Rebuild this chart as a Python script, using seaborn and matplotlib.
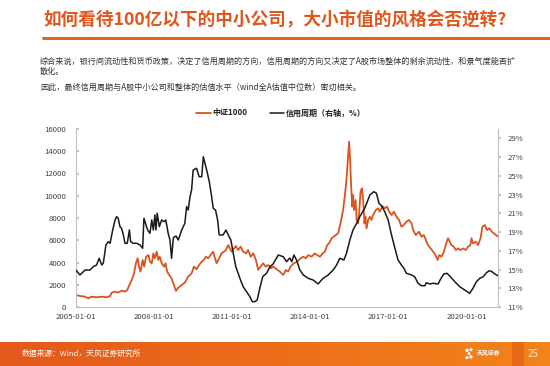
import numpy as np
import pandas as pd
import matplotlib
matplotlib.use("Agg")
import matplotlib.pyplot as plt
from matplotlib.lines import Line2D
from matplotlib.colors import LinearSegmentedColormap
import seaborn as sns

# ---------------- data ----------------
csi_years = [2005.00, 2005.15, 2005.35, 2005.47, 2005.60, 2005.79, 2005.99, 2006.18, 2006.31, 2006.37,
             2006.50, 2006.62, 2006.75, 2006.88, 2006.97, 2007.05, 2007.14, 2007.23, 2007.30, 2007.37,
             2007.42, 2007.48, 2007.56, 2007.62, 2007.69, 2007.78, 2007.84, 2007.91, 2007.97, 2008.03,
             2008.10, 2008.16, 2008.22, 2008.29, 2008.38, 2008.44, 2008.50, 2008.58, 2008.67, 2008.76,
             2008.84, 2008.93, 2009.06, 2009.18, 2009.31, 2009.44, 2009.53, 2009.63, 2009.73, 2009.83,
             2009.91, 2009.99, 2010.08, 2010.17, 2010.27, 2010.34, 2010.40, 2010.50, 2010.59, 2010.68,
             2010.76, 2010.85, 2010.91, 2010.98, 2011.07, 2011.14, 2011.23, 2011.32, 2011.42, 2011.53,
             2011.61, 2011.71, 2011.81, 2011.91, 2012.00, 2012.09, 2012.19, 2012.29, 2012.38, 2012.49,
             2012.57, 2012.70, 2012.83, 2012.96, 2013.06, 2013.15, 2013.24, 2013.37, 2013.50, 2013.63,
             2013.73, 2013.83, 2013.92, 2014.05, 2014.17, 2014.26, 2014.37, 2014.47, 2014.56, 2014.65,
             2014.72, 2014.82, 2014.90, 2014.98, 2015.07, 2015.13, 2015.20, 2015.26, 2015.33, 2015.39,
             2015.45, 2015.49, 2015.53, 2015.57, 2015.61, 2015.64, 2015.68, 2015.74, 2015.78, 2015.84,
             2015.88, 2015.93, 2015.98, 2016.03, 2016.08, 2016.12, 2016.16, 2016.22, 2016.29, 2016.35,
             2016.41, 2016.52, 2016.60, 2016.67, 2016.77, 2016.86, 2016.95, 2017.03, 2017.12, 2017.21,
             2017.31, 2017.41, 2017.50, 2017.59, 2017.69, 2017.79, 2017.89, 2017.95, 2018.05, 2018.18,
             2018.27, 2018.36, 2018.44, 2018.52, 2018.62, 2018.72, 2018.81, 2018.89, 2018.95, 2019.04,
             2019.13, 2019.20, 2019.29, 2019.36, 2019.42, 2019.51, 2019.59, 2019.68, 2019.77, 2019.87,
             2019.97, 2020.06, 2020.15, 2020.19, 2020.25, 2020.36, 2020.44, 2020.54, 2020.61, 2020.70,
             2020.79, 2020.88, 2020.97, 2021.05, 2021.13, 2021.21]
csi1000 = [1080, 990, 930, 780, 930, 870, 930, 870, 990, 1290,
           1380, 1290, 1470, 1380, 1530, 1980, 2430, 3030, 3930, 4380,
           3630, 3180, 4230, 3630, 4520, 4670, 4080, 3930, 4820, 4380,
           4970, 4230, 4520, 3930, 3630, 3930, 3180, 2880, 2580, 1980,
           1450, 1750, 1980, 2190, 2730, 3030, 3630, 3390, 3780, 4080,
           4230, 4520, 4380, 4670, 4970, 4380, 3930, 4380, 4820, 4970,
           5120, 5570, 5270, 4970, 5270, 5480, 5120, 5420, 4970, 4820,
           5120, 4520, 4820, 4230, 3330, 3630, 3930, 3630, 3780, 3480,
           3630, 3400, 3180, 2880, 3330, 3180, 3630, 3930, 4080, 4380,
           4520, 4380, 4670, 4520, 4820, 4670, 4520, 4820, 4970, 5570,
           5720, 6180, 6320, 6470, 6630, 7220, 7970, 8720, 10070, 11420,
           13510, 14860, 13210, 10810, 9020, 10070, 8720, 9620, 7820, 7520,
           8570, 10360, 10670, 9620, 7520, 8120, 7070, 7820, 8120, 7820,
           8270, 8720, 8870, 8570, 9080, 8870, 9020, 8570, 8270, 8570,
           8120, 7820, 7220, 7370, 7670, 7820, 7520, 6920, 6470, 6770,
           6320, 6470, 6020, 5570, 5270, 4970, 4670, 4230, 4670, 4520,
           4970, 5570, 6180, 5870, 5570, 5420, 5120, 5270, 5120, 5270,
           5120, 5420, 5570, 6180, 5720, 5870, 5570, 6180, 7220, 7370,
           6920, 7070, 6770, 6620, 6470, 6320]

credit_years = [2005.00, 2005.15, 2005.35, 2005.54, 2005.66, 2005.79, 2005.89, 2005.99, 2006.05, 2006.15,
                2006.24, 2006.31, 2006.41, 2006.50, 2006.56, 2006.62, 2006.69, 2006.75, 2006.82, 2006.88,
                2006.97, 2007.05, 2007.10, 2007.20, 2007.33, 2007.46, 2007.56, 2007.61, 2007.69, 2007.75,
                2007.84, 2007.91, 2007.97, 2008.03, 2008.07, 2008.12, 2008.20, 2008.29, 2008.38, 2008.45,
                2008.54, 2008.61, 2008.67, 2008.74, 2008.84, 2008.93, 2009.06, 2009.18, 2009.25, 2009.31,
                2009.38, 2009.44, 2009.50, 2009.63, 2009.73, 2009.83, 2009.89, 2010.02, 2010.12, 2010.21,
                2010.27, 2010.36, 2010.44, 2010.50, 2010.65, 2010.76, 2010.85, 2010.95, 2011.04, 2011.14,
                2011.23, 2011.32, 2011.42, 2011.55, 2011.68, 2011.77, 2011.87, 2011.96, 2012.06, 2012.17,
                2012.32, 2012.45, 2012.57, 2012.77, 2012.96, 2013.09, 2013.21, 2013.29, 2013.37, 2013.47,
                2013.60, 2013.73, 2013.92, 2014.11, 2014.30, 2014.49, 2014.69, 2014.88, 2015.01, 2015.13,
                2015.29, 2015.39, 2015.52, 2015.64, 2015.78, 2015.90, 2016.09, 2016.29, 2016.44, 2016.54,
                2016.64, 2016.74, 2016.86, 2016.99, 2017.12, 2017.25, 2017.37, 2017.50, 2017.59, 2017.69,
                2017.89, 2018.01, 2018.14, 2018.27, 2018.40, 2018.46, 2018.59, 2018.72, 2018.91, 2019.00,
                2019.13, 2019.25, 2019.38, 2019.55, 2019.74, 2019.93, 2020.12, 2020.25, 2020.38, 2020.51,
                2020.64, 2020.77, 2020.87, 2020.97, 2021.09, 2021.21]
credit_pct = [14.95, 14.42, 14.95, 14.95, 15.30, 15.48, 16.20, 15.48, 15.70, 17.62,
              17.97, 17.80, 19.22, 20.29, 20.64, 20.47, 19.57, 19.40, 18.69, 17.80,
              17.80, 19.22, 17.97, 17.80, 17.80, 17.62, 17.27, 20.47, 19.75, 19.22,
              18.87, 20.29, 19.22, 20.82, 19.22, 21.00, 19.57, 20.29, 20.11, 20.29,
              18.87, 18.15, 16.20, 18.40, 18.58, 18.15, 19.22, 19.93, 21.71, 21.35,
              22.77, 23.49, 25.62, 25.81, 24.91, 24.91, 27.04, 25.62, 24.38, 22.77,
              21.54, 21.35, 20.29, 18.69, 18.69, 19.22, 18.69, 18.15, 16.73, 15.30,
              14.60, 13.88, 13.17, 12.63, 12.10, 11.57, 11.57, 11.75, 13.00, 14.23,
              14.60, 15.30, 15.59, 16.55, 16.37, 15.84, 16.23, 15.84, 16.55, 16.02,
              14.95, 14.42, 14.06, 13.88, 13.46, 14.06, 14.42, 14.95, 15.48, 16.20,
              16.02, 16.73, 18.15, 19.22, 19.93, 20.64, 21.54, 22.96, 23.31, 23.14,
              22.07, 21.78, 21.17, 20.29, 18.69, 17.27, 16.02, 15.48, 15.16, 14.60,
              14.42, 14.23, 13.53, 13.27, 13.27, 13.59, 13.46, 13.53, 13.46, 13.96,
              14.52, 14.60, 14.23, 13.70, 13.17, 12.81, 12.46, 13.00, 13.70, 14.06,
              14.23, 14.66, 14.87, 14.79, 14.52, 14.34]

left_ticks = [0, 2000, 4000, 6000, 8000, 10000, 12000, 14000, 16000]
right_ticks = [11, 13, 15, 17, 19, 21, 23, 25, 27, 29]
x_tick_labels = ["2005-01-01", "2008-01-01", "2011-01-01", "2014-01-01", "2017-01-01", "2020-01-01"]

series_names = ["中证1000", "信用周期（右轴，%）"]
title = "如何看待100亿以下的中小公司，大小市值的风格会否逆转?"
para1 = "综合来说，银行间流动性和货币政策，决定了信用周期的方向，信用周期的方向又决定了A股市场整体的剩余流动性，和景气度能否扩"
para2 = "散化。"
para3 = "因此，最终信用周期与A股中小公司和整体的估值水平（wind全A估值中位数）密切相关。"
source = "数据来源：Wind，天风证券研究所"
page_no = "25"


def to_dates(yrs):
    base = pd.Timestamp("2005-01-01")
    return base + pd.to_timedelta((np.asarray(yrs) - 2005.0) * 365.25, unit="D")


df_csi = pd.DataFrame({"date": to_dates(csi_years), "value": csi1000})
df_credit = pd.DataFrame({"date": to_dates(credit_years), "value": credit_pct})

# ---------------- style ----------------
sns.set_theme(style="white")
plt.rcParams["font.family"] = ["Noto Sans CJK SC", "DejaVu Sans"]
plt.rcParams["axes.unicode_minus"] = False

ORANGE = "#D9541E"
TITLE_C = "#E0561C"
BLACK = "#1A1A1A"
TICK_C = "#404040"
SPINE_C = "#BFBFBF"

fig = plt.figure(figsize=(5.5, 3.66), dpi=100)
W, H = 550.0, 366.0

# title + rule
fig.text(43 / W, 1 - 20 / H, title, fontsize=12.7, fontweight="bold", color=TITLE_C,
         ha="left", va="center")
fig.add_artist(Line2D([43 / W, 1.0], [1 - 37.5 / H, 1 - 37.5 / H], color="#E06524", lw=2.2,
                      transform=fig.transFigure))

# paragraphs
fig.text(40 / W, 1 - 61 / H, para1, fontsize=5.85, color="#333333", ha="left", va="center")
fig.text(40 / W, 1 - 71.5 / H, para2, fontsize=5.85, color="#333333", ha="left", va="center")
fig.text(40 / W, 1 - 87 / H, para3, fontsize=5.85, color="#333333", ha="left", va="center")

# ---------------- chart ----------------
ax = fig.add_axes([76 / W, 1 - 307 / H, (498 - 76) / W, (307 - 129) / H])
ax2 = ax.twinx()

sns.lineplot(data=df_csi, x="date", y="value", ax=ax, color=ORANGE, linewidth=1.3,
             legend=False, label=series_names[0])
sns.lineplot(data=df_credit, x="date", y="value", ax=ax2, color=BLACK, linewidth=1.1,
             legend=False, label=series_names[1])

ax.set_xlim(pd.Timestamp("2005-01-01"), to_dates([2021.21])[0])
ax.set_ylim(0, 16000)
ax2.set_ylim(11, 30)

ax.set_xticks(pd.to_datetime(x_tick_labels))
ax.set_xticklabels(x_tick_labels)
ax.set_yticks(left_ticks)
ax.set_yticklabels([str(v) for v in left_ticks])
ax2.set_yticks(right_ticks)
ax2.set_yticklabels([f"{v}%" for v in right_ticks])

for a in (ax, ax2):
    a.set_xlabel("")
    a.set_ylabel("")
    a.grid(False)
    a.spines["top"].set_visible(False)
    for s in ("left", "right", "bottom"):
        a.spines[s].set_color(SPINE_C)
        a.spines[s].set_linewidth(0.8)
ax.spines["right"].set_visible(False)
ax2.spines["left"].set_visible(False)
ax2.spines["bottom"].set_visible(False)

ax.tick_params(axis="x", direction="in", length=3, color=SPINE_C, labelsize=5.6,
               labelcolor=TICK_C, pad=4)
ax.tick_params(axis="y", direction="in", length=2, color=SPINE_C, labelsize=5.6,
               labelcolor=TICK_C, pad=7)
ax2.tick_params(axis="y", direction="out", length=2, color=SPINE_C, labelsize=5.6,
                labelcolor=TICK_C, pad=5)

# legend
handles = [Line2D([], [], color=ORANGE, lw=1.3), Line2D([], [], color=BLACK, lw=1.1)]
leg = fig.legend(handles, series_names, loc="center", bbox_to_anchor=(281 / W, 1 - 113 / H),
                 ncol=2, frameon=False, handlelength=1.8, handletextpad=0.2,
                 columnspacing=2.8, prop={"weight": "bold", "size": 5.8})
for t in leg.get_texts():
    t.set_color("#222222")

# ---------------- footer ----------------
fax = fig.add_axes([0, 0, 1, 24 / H])
grad = np.linspace(0, 1, 256).reshape(1, -1)
cmap = LinearSegmentedColormap.from_list("ft", ["#E3581C", "#EC6E1A", "#F2841C"])
fax.imshow(grad, aspect="auto", cmap=cmap, extent=[0, 1, 0, 1])
fax.add_patch(plt.Rectangle((512 / W, 0), 12 / W, 1, color="#E2551A", alpha=0.55, lw=0))
fax.set_xlim(0, 1)
fax.set_ylim(0, 1)
fax.axis("off")
fax.text(22 / W, 0.5, source, fontsize=5.6, color="white", ha="left", va="center")
fax.text(533 / W, 0.5, page_no, fontsize=7, color="#FCE3C8", ha="center", va="center")
# logo
fax.scatter([467 / W, 471 / W, 467 / W, 471 / W, 469 / W], [0.65, 0.68, 0.35, 0.38, 0.52],
            s=[6, 5, 5, 6, 4], color="white", lw=0)
fax.text(477 / W, 0.55, "天风证券", fontsize=4.2, color="white", ha="left", va="center",
         fontweight="bold")

fig.savefig("out.png", dpi=100, facecolor="white")
